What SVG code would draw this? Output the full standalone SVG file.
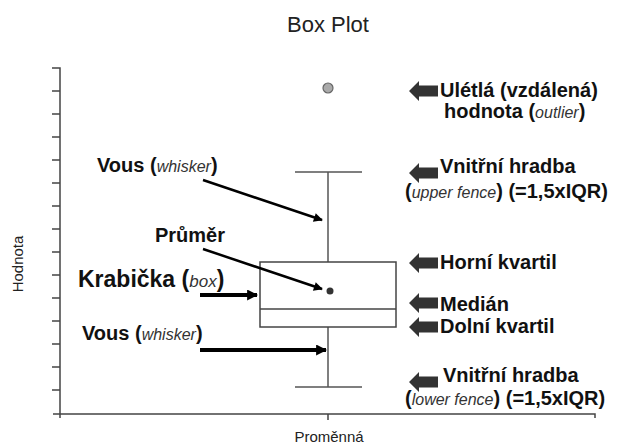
<svg xmlns="http://www.w3.org/2000/svg" width="617" height="445" viewBox="0 0 617 445">
  <style>
    text { font-family: "Liberation Sans", Arial, sans-serif; }
    .title { font-size: 22px; fill: #222; }
    .axlbl { font-size: 15px; fill: #222; }
    .lbl { font-size: 20px; font-weight: bold; fill: #111; }
    .it { font-style: italic; font-weight: normal; font-size: 16px; fill: #333; }
    .axis { stroke: #444; stroke-width: 1.5; fill: none; }
    .plot { stroke: #555; stroke-width: 1.5; fill: none; }
    .ptr { stroke: #000; fill: none; }
    .blk { fill: #333; }
  </style>
  <defs>
    <marker id="ah" viewBox="0 0 10 10" refX="9" refY="5" markerWidth="10" markerHeight="9" markerUnits="userSpaceOnUse" orient="auto">
      <path d="M0,0 L10,5 L0,10 Z" fill="#000"/>
    </marker>
    <marker id="ahb" viewBox="0 0 10 10" refX="9" refY="5" markerWidth="11" markerHeight="11" markerUnits="userSpaceOnUse" orient="auto">
      <path d="M0,0 L10,5 L0,10 Z" fill="#000"/>
    </marker>
    <!-- fat left-pointing callout arrow, tip at origin -->
    <path id="blk" d="M0,0 L10,-10 L10,-5.5 L29,-5.5 L29,5.5 L10,5.5 L10,10 Z"/>
  </defs>

  <rect width="617" height="445" fill="#fff"/>

  <g id="title">
    <text class="title" x="328" y="32" text-anchor="middle">Box Plot</text>
  </g>

  <g id="axes">
    <path class="axis" d="M52,68 H60 V414 M53,414 H595 V418 M60,414 V418 M328,414 V420"/>
    <path class="axis" d="M52,91 H60 M52,114 H60 M52,137 H60 M52,160 H60 M52,183 H60 M52,206 H60 M52,229 H60 M52,252 H60 M52,275 H60 M52,298 H60 M52,321 H60 M52,344 H60 M52,367 H60 M52,390 H60"/>
    <text class="axlbl" x="329" y="442" text-anchor="middle">Proměnná</text>
    <text class="axlbl" transform="translate(23,264) rotate(-90)" text-anchor="middle">Hodnota</text>
  </g>

  <g id="boxplot">
    <path class="plot" d="M295,172 H362 M328,172 V262 M328,327 V387 M295,387 H362"/>
    <rect x="260" y="262" width="136" height="65" fill="none" stroke="#444" stroke-width="1.5"/>
    <line x1="260" y1="309" x2="396" y2="309" stroke="#444" stroke-width="1.5"/>
    <circle cx="330" cy="291" r="3.5" fill="#333"/>
    <circle cx="328" cy="88" r="5" fill="#aaa" stroke="#666" stroke-width="1.2"/>
  </g>

  <g id="connectors">
    <line class="ptr" x1="203" y1="180" x2="322" y2="220" stroke-width="2.5" marker-end="url(#ah)"/>
    <line class="ptr" x1="203" y1="249" x2="322" y2="289" stroke-width="2.5" marker-end="url(#ah)"/>
    <line class="ptr" x1="200" y1="295" x2="257" y2="295" stroke-width="4" marker-end="url(#ahb)"/>
    <line class="ptr" x1="200" y1="350" x2="326" y2="350" stroke-width="4" marker-end="url(#ahb)"/>
    <use href="#blk" class="blk" x="409" y="91"/>
    <use href="#blk" class="blk" x="409" y="173"/>
    <use href="#blk" class="blk" x="409" y="263"/>
    <use href="#blk" class="blk" x="409" y="303"/>
    <use href="#blk" class="blk" x="409" y="327"/>
    <use href="#blk" class="blk" x="409" y="382"/>
  </g>

  <g id="label-whisker-top">
    <text class="lbl" x="97" y="172">Vous (<tspan class="it">whisker</tspan>)</text>
  </g>
  <g id="label-mean">
    <text class="lbl" x="155" y="242">Průměr</text>
  </g>
  <g id="label-box">
    <text class="lbl" x="78" y="287" style="font-size:23px">Krabička (<tspan class="it" style="font-size:17px">box</tspan>)</text>
  </g>
  <g id="label-whisker-bottom">
    <text class="lbl" x="82" y="340">Vous (<tspan class="it">whisker</tspan>)</text>
  </g>

  <g id="label-outlier">
    <text class="lbl" x="440" y="97">Ulétlá (vzdálená)</text>
    <text class="lbl" x="444" y="118">hodnota (<tspan class="it">outlier</tspan>)</text>
  </g>
  <g id="label-upper-fence">
    <text class="lbl" x="440" y="173">Vnitřní hradba</text>
    <text class="lbl" x="405" y="198">(<tspan class="it">upper fence</tspan>) (=1,5xIQR)</text>
  </g>
  <g id="label-q3">
    <text class="lbl" x="440" y="269">Horní kvartil</text>
  </g>
  <g id="label-median">
    <text class="lbl" x="440" y="311">Medián</text>
  </g>
  <g id="label-q1">
    <text class="lbl" x="440" y="333">Dolní kvartil</text>
  </g>
  <g id="label-lower-fence">
    <text class="lbl" x="443" y="382">Vnitřní hradba</text>
    <text class="lbl" x="405" y="405">(<tspan class="it">lower fence</tspan>) (=1,5xIQR)</text>
  </g>
</svg>
